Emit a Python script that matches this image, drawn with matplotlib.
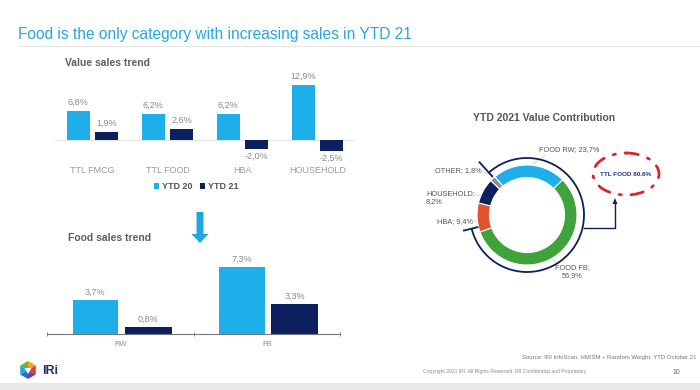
import numpy as np
import matplotlib.pyplot as plt
from matplotlib.patches import Arc, Ellipse, FancyArrow, Polygon, Rectangle

plt.rcParams['font.family'] = ['Liberation Sans', 'DejaVu Sans']

# data
categories = ['TTL FMCG', 'TTL FOOD', 'HBA', 'HOUSEHOLD']
ytd20 = [6.8, 6.2, 6.2, 12.9]
ytd21 = [1.9, 2.6, -2.0, -2.5]

food_cats = ['RW', 'FB']
food_ytd20 = [3.7, 7.3]
food_ytd21 = [0.8, 3.3]

share_labels = ['FOOD RW', 'FOOD FB', 'HBA', 'HOUSEHOLD', 'OTHER']
share_values = [23.7, 56.9, 9.4, 8.2, 1.8]
ttl_food = 80.6

LIGHT = '#1eaeea'
NAVY = '#0c1f5e'
GRAY = '#8a8a8a'
share_colors = [LIGHT, '#3ea33a', '#e0552a', NAVY, '#8c8c8c']

W, H = 700, 390


def rect(x0, y0, x1, y1):
    return [x0 / W, 1 - y1 / H, (x1 - x0) / W, (y1 - y0) / H]


def pct(v):
    return f'{v:.1f}%'.replace('.', ',')


fig = plt.figure(figsize=(7, 3.9), dpi=100)

# overlay in pixel coordinates for slide decorations
ov = fig.add_axes([0, 0, 1, 1])
ov.set_xlim(0, W)
ov.set_ylim(H, 0)
ov.axis('off')
ov.patch.set_alpha(0)

ov.text(18, 35, 'Food is the only category with increasing sales in YTD 21',
        fontsize=11.2, color='#2aa6dc', va='center')
ov.plot([18, 700], [46, 46], color='#e6e6e6', lw=0.8)
ov.text(65, 63, 'Value sales trend', fontsize=7.5, fontweight='bold', color='#5f5f5f', va='center')
ov.text(68, 238, 'Food sales trend', fontsize=7.5, fontweight='bold', color='#5f5f5f', va='center')
ov.text(544, 118, 'YTD 2021 Value Contribution', fontsize=7.5, fontweight='bold',
        color='#555555', va='center', ha='center')

# down arrow
ov.add_patch(FancyArrow(200, 212, 0, 31, width=7, head_width=17, head_length=9,
                        length_includes_head=True, color='#1ea6e0', lw=0))

# ---- top bar chart
ax1 = fig.add_axes(rect(55, 80, 355, 160))
ax1.patch.set_alpha(0)
x = np.arange(len(categories))
ax1.bar(x - 0.19, ytd20, width=0.31, color=LIGHT, label='YTD 20')
ax1.bar(x + 0.19, ytd21, width=0.31, color=NAVY, label='YTD 21')
ax1.axhline(0, color='#e3e3e3', lw=0.8, zorder=0)
for xi, v in zip(x, ytd20):
    ax1.text(xi - 0.19, v + 1.0, pct(v), ha='center', va='bottom', fontsize=6.5, color=GRAY)
for xi, v in zip(x, ytd21):
    if v >= 0:
        ax1.text(xi + 0.19, v + 1.0, pct(v), ha='center', va='bottom', fontsize=6.5, color=GRAY)
    else:
        ax1.text(xi + 0.19, v - 0.8, pct(v), ha='center', va='top', fontsize=6.5, color=GRAY)
ax1.set_xlim(-0.5, 3.5)
ax1.set_ylim(-4.69, 14.08)
ax1.set_xticks(x)
ax1.set_xticklabels(categories, fontsize=6.5, color='#9a9a9a')
ax1.tick_params(axis='x', length=0, pad=4)
ax1.set_yticks([])
for s in ax1.spines.values():
    s.set_visible(False)
leg = ax1.legend(loc='center', bbox_to_anchor=(0.47, -0.33), ncol=2, frameon=False,
                 fontsize=6.5, handlelength=0.6, handleheight=0.6, handletextpad=0.3,
                 columnspacing=0.8)
for t in leg.get_texts():
    t.set_color('#555555')
    t.set_fontweight('bold')

# ---- bottom bar chart
ax2 = fig.add_axes(rect(47, 255, 340, 334))
ax2.patch.set_alpha(0)
xf = np.arange(len(food_cats))
ax2.bar(xf - 0.17, food_ytd20, width=0.31, color=LIGHT)
ax2.bar(xf + 0.19, food_ytd21, width=0.32, color=NAVY)
for xi, v in zip(xf, food_ytd20):
    ax2.text(xi - 0.17, v + 0.35, pct(v), ha='center', va='bottom', fontsize=6.5, color=GRAY)
for xi, v in zip(xf, food_ytd21):
    ax2.text(xi + 0.19, v + 0.35, pct(v), ha='center', va='bottom', fontsize=6.5, color=GRAY)
ax2.set_xlim(-0.5, 1.5)
ax2.set_ylim(0, 8.59)
ax2.set_xticks(xf)
ax2.set_xticklabels(food_cats, fontsize=5.5, color='#8a8a8a')
ax2.tick_params(axis='x', length=0, pad=5)
ax2.set_xticks([-0.5, 0.5, 1.5], minor=True)
ax2.tick_params(axis='x', which='minor', length=2.5, color='#777777', direction='inout')
ax2.set_yticks([])
for k in ['top', 'right', 'left']:
    ax2.spines[k].set_visible(False)
ax2.spines['bottom'].set_color('#777777')
ax2.spines['bottom'].set_linewidth(0.8)

# ---- donut
ax3 = fig.add_axes(rect(447, 135, 607, 295))
ax3.patch.set_alpha(0)
ax3.pie(share_values, colors=share_colors, startangle=130, counterclock=False, radius=1.0,
        wedgeprops=dict(width=0.25, edgecolor='white', linewidth=0.8))
ax3.set_xlim(-1.6, 1.6)
ax3.set_ylim(-1.6, 1.6)
ax3.set_aspect('equal')
food_start = 132
food_end = 130 - 360 * ttl_food / 100 - 6
ax3.add_patch(Arc((0, 0), 2.28, 2.28, theta1=food_end, theta2=food_start, color=NAVY, lw=1.3))
for ang, r0, r1 in [(food_start, 1.04, 1.42), (food_end, 1.02, 1.3)]:
    a = np.deg2rad(ang)
    ax3.plot([r0 * np.cos(a), r1 * np.cos(a)], [r0 * np.sin(a), r1 * np.sin(a)], color=NAVY, lw=1.3)

# donut labels (overlay pixel coords)
lab_kw = dict(fontsize=5.3, color='#555555')
ov.text(539, 150, f'{share_labels[0]}; {pct(share_values[0])}', ha='left', va='center', **lab_kw)
ov.plot([545, 522], [155, 172], color='#cfcfcf', lw=0.6)
ov.text(482, 171, f'{share_labels[4]}; {pct(share_values[4])}', ha='right', va='center', **lab_kw)
ov.plot([483, 494], [172, 175], color='#cfcfcf', lw=0.6)
ov.text(475, 198, f'{share_labels[3]};\n{pct(share_values[3])}', ha='right', va='center',
        multialignment='left', linespacing=1.2, **lab_kw)
ov.plot([476, 486], [195, 196], color='#cfcfcf', lw=0.6)
ov.text(473, 222, f'{share_labels[2]}; {pct(share_values[2])}', ha='right', va='center', **lab_kw)
ov.plot([474, 487], [221, 220], color='#cfcfcf', lw=0.6)
ov.text(572, 272, f'{share_labels[1]};\n{pct(share_values[1])}', ha='center', va='center',
        linespacing=1.2, **lab_kw)
ov.plot([556, 541], [262, 249], color='#cfcfcf', lw=0.6)

# connector to TTL FOOD bubble
ov.plot([584, 615, 615], [228, 228, 204], color=NAVY, lw=1.0)
ov.add_patch(FancyArrow(615, 206, 0, -8, width=0, head_width=5, head_length=6,
                        length_includes_head=True, color=NAVY, lw=0))
ov.add_patch(Ellipse((626, 174), 66, 42, fill=False, edgecolor='#d9262e', lw=2.0,
                     linestyle=(0, (4.5, 3.5, 0.8, 3.5)), capstyle='round'))
ov.text(626, 174, f'TTL FOOD {ttl_food:.1f}%', ha='center', va='center', fontsize=4.6,
        fontweight='bold', color='#1f3a8a')

# source + footer
ov.text(697, 357, 'Source: IRI InfoScan, HM/SM + Random Weight, YTD October 21',
        ha='right', va='center', fontsize=4.3, color='#777777')
ov.text(586, 372, 'Copyright 2021 IRI. All Rights Reserved. IRI Confidential and Proprietary',
        ha='right', va='center', fontsize=3.6, color='#888888')
ov.text(676, 372, '10', ha='center', va='center', fontsize=5, color='#666666')
ov.add_patch(Rectangle((0, 383), 700, 7, color='#e9e9e9', lw=0))

# logo
cx, cy, r = 28, 370, 9
hexv = [(cx + r * np.cos(np.deg2rad(a)), cy + r * np.sin(np.deg2rad(a))) for a in range(-90, 270, 60)]
logo_cols = ['#f4a21c', '#e53b2c', '#7a3e9d', '#1a76c2', '#26a6de', '#5bb944']
for i in range(6):
    ov.add_patch(Polygon([(cx, cy), hexv[i], hexv[(i + 1) % 6]], color=logo_cols[i], lw=0))
ov.add_patch(Polygon([(cx - 3.5, cy - 2), (cx + 3.5, cy - 2), (cx, cy + 4)], color='white', lw=0))
ov.text(42, 371, 'IRi', fontsize=9, fontweight='bold', color='#1d2f6f', va='center')

fig.savefig('out.png', dpi=100)
